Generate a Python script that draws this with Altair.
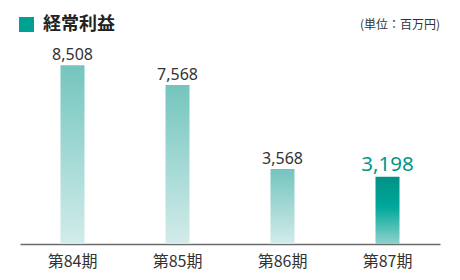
import altair as alt
import pandas as pd

periods = ["第84期", "第85期", "第86期", "第87期"]
values = [8508, 7568, 3568, 3198]
title_text = "経常利益"
unit_text = "(単位：百万円)"

df = pd.DataFrame({"period": periods, "value": values,
                   "latest": [False, False, False, True]})

JP = "Noto Sans CJK JP"
x_enc = alt.X("period:N", sort=periods,
              scale=alt.Scale(paddingInner=0, paddingOuter=0),
              axis=alt.Axis(title=None, labelAngle=0, labelFont=JP, labelFontSize=16,
                            labelColor="#333333", ticks=False, tickSize=0,
                            labelPadding=17, labelBaseline="middle",
                            domainColor="#6b6b6b", domainWidth=1.5, grid=False))
y_enc = alt.Y("value:Q", scale=alt.Scale(domain=[0, 10000]), axis=None)

base = alt.Chart(df)

grad_light = alt.Gradient(gradient="linear",
                          stops=[alt.GradientStop(color="#74c5be", offset=0),
                                 alt.GradientStop(color="#d2ecea", offset=1)],
                          x1=0, x2=0, y1=0, y2=1)
grad_dark = alt.Gradient(gradient="linear",
                         stops=[alt.GradientStop(color="#009185", offset=0),
                                alt.GradientStop(color="#00a89b", offset=0.45),
                                alt.GradientStop(color="#90d2cc", offset=1)],
                         x1=0, x2=0, y1=0, y2=1)

bars_old = base.transform_filter("!datum.latest").mark_bar(size=24, color=grad_light).encode(x=x_enc, y=y_enc)
bars_new = base.transform_filter("datum.latest").mark_bar(size=24, color=grad_dark).encode(x=x_enc, y=y_enc)

lab_old = base.transform_filter("!datum.latest").mark_text(
    font="Noto Sans", fontSize=16, color="#333333", baseline="alphabetic", dy=-5
).encode(x=x_enc, y=y_enc, text=alt.Text("value:Q", format=","))
lab_new = base.transform_filter("datum.latest").mark_text(
    font="Noto Sans", fontSize=20.5, color="#00968a", baseline="alphabetic", dy=-6
).encode(x=x_enc, y=y_enc, text=alt.Text("value:Q", format=","))

deco = alt.Chart(pd.DataFrame({"t": [title_text], "u": [unit_text]}))
square = deco.mark_rect(color="#00a093").encode(
    x=alt.value(-1), x2=alt.value(14), y=alt.value(-17), y2=alt.value(-2))
title = deco.mark_text(font=JP, fontSize=18, fontWeight="bold", color="#222222",
                       align="left", baseline="middle").encode(
    text="t:N", x=alt.value(23), y=alt.value(-9.5))
unit = deco.mark_text(font=JP, fontSize=12, color="#333333",
                      align="right", baseline="middle").encode(
    text="u:N", x=alt.value(420), y=alt.value(-9))

chart = alt.layer(bars_old, bars_new, lab_old, lab_new, square, title, unit).properties(
    width=420, height=210,
    background="white",
    autosize=alt.AutoSizeParams(type="none"),
    padding={"left": 20, "top": 34, "right": 20, "bottom": 36},
).configure_view(strokeOpacity=0, strokeWidth=0)

chart.save("out.html", embed_options={"renderer": "svg", "actions": False})
